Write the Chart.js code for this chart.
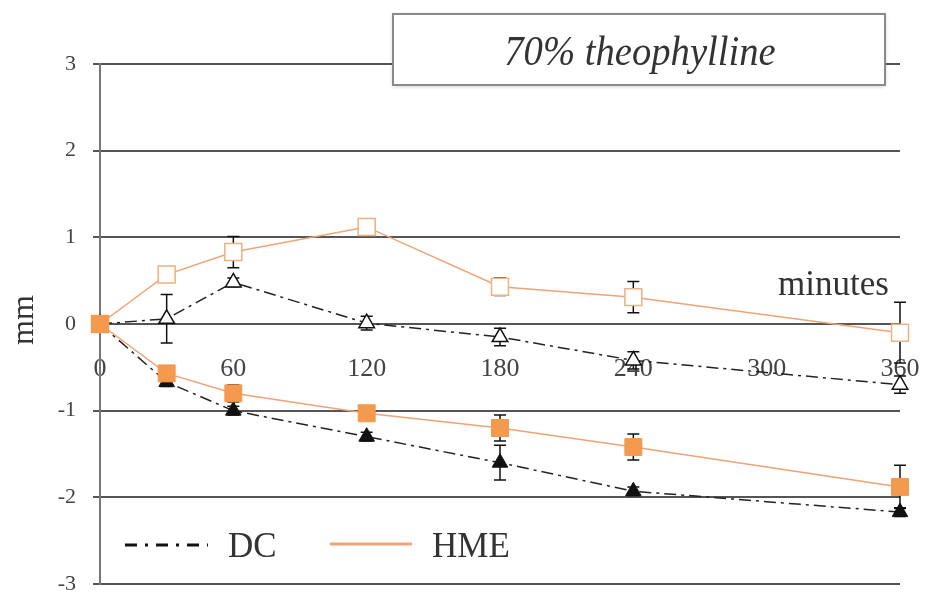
<!DOCTYPE html>
<html><head><meta charset="utf-8">
<script src="https://cdn.jsdelivr.net/npm/chart.js@4/dist/chart.umd.min.js"></script>
<style>html,body{margin:0;padding:0;background:#fff}#wrap{width:930px;height:605px}</style>
</head><body><div id="wrap"><canvas id="c" width="930" height="605"></canvas></div>
<script>
const minutes = [0, 30, 60, 120, 180, 240, 360];
const xTicks = [0, 60, 120, 180, 240, 300, 360];
const yTicks = [-3, -2, -1, 0, 1, 2, 3];
const hmeUpper = [0, 0.57, 0.83, 1.12, 0.43, 0.31, -0.1];
const hmeUpperErr = [0, 0.04, 0.18, 0.05, 0.1, 0.18, 0.35];
const dcUpper = [0, 0.06, 0.48, 0.01, -0.15, -0.42, -0.7];
const dcUpperErr = [0, 0.28, 0.05, 0.08, 0.1, 0.1, 0.1];
const hmeLower = [0, -0.57, -0.8, -1.03, -1.2, -1.42, -1.88];
const hmeLowerErr = [0, 0.05, 0.1, 0.08, 0.15, 0.15, 0.25];
const dcLower = [0, -0.67, -1.0, -1.3, -1.6, -1.93, -2.17];
const dcLowerErr = [0, 0.05, 0.05, 0.05, 0.2, 0.05, 0.05];

const ORANGE = '#F39A4E';
const ORANGE_LINE = '#EFA376';
const SERIF = '"Liberation Serif", "DejaVu Serif", serif';

function pts(vals, errs){ return minutes.map((m,i)=>({x:m, y:vals[i], e:errs[i]})); }

const errorBars = {
  id:'errorBars',
  beforeDatasetsDraw(chart){
    const {ctx, scales:{x,y}} = chart;
    ctx.save();
    ctx.strokeStyle = '#111'; ctx.lineWidth = 1.5;
    chart.data.datasets.forEach(ds=>{
      ds.data.forEach(p=>{
        if(!p.e) return;
        const px = x.getPixelForValue(p.x);
        const y1 = y.getPixelForValue(p.y + p.e), y2 = y.getPixelForValue(p.y - p.e);
        ctx.beginPath();
        ctx.moveTo(px, y1); ctx.lineTo(px, y2);
        ctx.moveTo(px-6, y1); ctx.lineTo(px+6, y1);
        ctx.moveTo(px-6, y2); ctx.lineTo(px+6, y2);
        ctx.stroke();
      });
    });
    ctx.restore();
  }
};

const decor = {
  id:'decor',
  afterDraw(chart){
    const ctx = chart.ctx;
    ctx.save();
    // title box
    ctx.shadowColor = 'rgba(0,0,0,0.25)'; ctx.shadowBlur = 4; ctx.shadowOffsetY = 1;
    ctx.fillStyle = '#fff'; ctx.fillRect(393, 14, 492, 71);
    ctx.shadowColor = 'transparent';
    ctx.strokeStyle = '#8a8a8a'; ctx.lineWidth = 2; ctx.strokeRect(393, 14, 492, 71);
    ctx.save();
    ctx.translate(640, 65); ctx.scale(0.92, 1);
    ctx.fillStyle = '#333'; ctx.font = 'italic 42px ' + SERIF;
    ctx.textAlign = 'center'; ctx.textBaseline = 'alphabetic';
    ctx.fillText('70% theophylline', 0, 0);
    ctx.restore();
    // minutes
    ctx.textAlign = 'left'; ctx.textBaseline = 'alphabetic';
    ctx.font = '35px ' + SERIF; ctx.fillStyle = '#333';
    ctx.fillText('minutes', 778, 295);
    // mm axis title
    ctx.save();
    ctx.translate(25, 320); ctx.rotate(-Math.PI/2);
    ctx.textAlign = 'center'; ctx.textBaseline = 'middle';
    ctx.font = '32px ' + SERIF;
    ctx.fillText('mm', 0, 0);
    ctx.restore();
    // legend
    ctx.lineWidth = 3; ctx.strokeStyle = '#111';
    ctx.setLineDash([12, 8, 3, 8]);
    ctx.beginPath(); ctx.moveTo(125, 545); ctx.lineTo(208, 545); ctx.stroke();
    ctx.setLineDash([]);
    ctx.strokeStyle = ORANGE_LINE; ctx.lineWidth = 3;
    ctx.beginPath(); ctx.moveTo(330, 544); ctx.lineTo(412, 544); ctx.stroke();
    ctx.fillStyle = '#333'; ctx.font = '35px ' + SERIF; ctx.textBaseline = 'alphabetic';
    ctx.fillText('DC', 228, 557);
    ctx.fillText('HME', 432, 557);
    ctx.restore();
  }
};

new Chart(document.getElementById('c'), {
  type:'line',
  data:{ datasets:[
    {label:'DC', order:4, data:pts(dcUpper, dcUpperErr), borderColor:'#222', borderWidth:1.5, borderDash:[12,5,3,5], clip:false,
     pointStyle:'triangle', pointRadius:9, pointBackgroundColor:'#fff', pointBorderColor:'#111', pointBorderWidth:1.5},
    {label:'DC', order:2, data:pts(dcLower, dcLowerErr), borderColor:'#222', borderWidth:1.5, borderDash:[12,5,3,5], clip:false,
     pointStyle:'triangle', pointRadius:9, pointBackgroundColor:'#111', pointBorderColor:'#111', pointBorderWidth:1},
    {label:'HME', order:3, data:pts(hmeUpper, hmeUpperErr), borderColor:ORANGE_LINE, borderWidth:1.5, clip:false,
     pointStyle:'rect', pointRadius:12, pointBackgroundColor:'#fff', pointBorderColor:'#F0B080', pointBorderWidth:1.5},
    {label:'HME', order:1, data:pts(hmeLower, hmeLowerErr), borderColor:ORANGE_LINE, borderWidth:1.5, clip:false,
     pointStyle:'rect', pointRadius:12, pointBackgroundColor:ORANGE, pointBorderColor:ORANGE, pointBorderWidth:1}
  ]},
  options:{
    responsive:false, animation:false,
    layout:{padding:{top:64, right:30, bottom:21, left:0}},
    plugins:{legend:{display:false}, tooltip:{enabled:false}},
    scales:{
      x:{type:'linear', position:{y:0}, min:0, max:360,
         afterBuildTicks(s){ s.ticks = xTicks.map(v=>({value:v})); },
         afterFit(s){ s.paddingLeft = 0; s.paddingRight = 0; },
         grid:{display:false}, border:{display:false},
         ticks:{padding:22, color:'#444', font:{family:SERIF, size:26}}},
      y:{type:'linear', min:-3, max:3,
         afterBuildTicks(s){ s.ticks = yTicks.map(v=>({value:v})); },
         afterFit(s){ s.width = 100; s.paddingTop = 0; s.paddingBottom = 0; },
         grid:{color:'#555', lineWidth:2, tickLength:7},
         border:{color:'#777', width:2},
         ticks:{padding:17, color:'#444', font:{family:SERIF, size:22}}}
    }
  },
  plugins:[errorBars, decor]
});
</script></body></html>
